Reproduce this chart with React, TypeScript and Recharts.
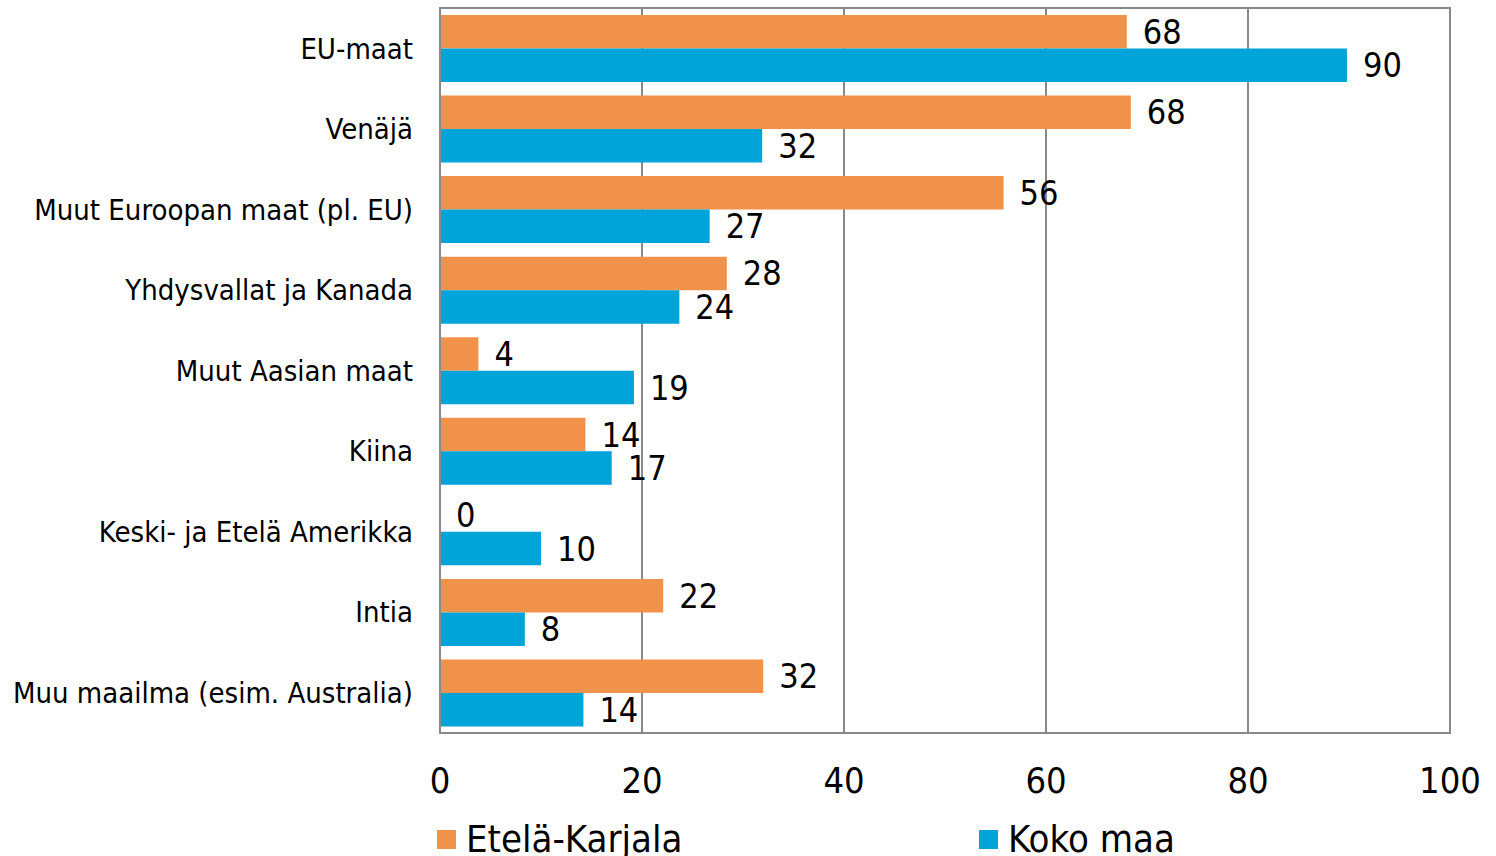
import React from 'react';
import { BarChart, Bar, XAxis, YAxis, CartesianGrid, LabelList, Legend, ReferenceArea } from 'recharts';

const categories = [
  'EU-maat',
  'Venäjä',
  'Muut Euroopan maat (pl. EU)',
  'Yhdysvallat ja Kanada',
  'Muut Aasian maat',
  'Kiina',
  'Keski- ja Etelä Amerikka',
  'Intia',
  'Muu maailma (esim. Australia)',
];
const eteläKarjala = [68, 68.4, 55.8, 28.4, 3.8, 14.4, 0, 22.1, 32];
const kokoMaa = [89.8, 31.9, 26.7, 23.7, 19.2, 17, 10, 8.4, 14.2];
const xTicks = [0, 20, 40, 60, 80, 100];
const seriesNames = ['Etelä-Karjala', 'Koko maa'];
const colors = ['#F0924A', '#00A4D8'];

const data = categories.map((name, i) => ({ name, a: eteläKarjala[i], b: kokoMaa[i] }));

const FONT = "'DejaVu Sans Condensed', 'DejaVu Sans', sans-serif";

const LegendContent = () => (
  <div style={{ display: 'flex', height: 40, alignItems: 'center', fontFamily: FONT, fontSize: 38, paddingLeft: 437, position: 'relative', top: 3 }}>
    {seriesNames.map((n, i) => (
      <div key={n} style={{ display: 'flex', alignItems: 'center', width: 542, flexShrink: 0 }}>
        <span style={{ display: 'inline-block', width: 19, height: 19, background: colors[i], marginRight: 10 }} />
        <span style={{ color: '#000', whiteSpace: 'nowrap' }}>{n}</span>
      </div>
    ))}
  </div>
);

const fmt = (v: any) => String(Math.round(Number(v)));

export default function App() {
  return (
    <div style={{ position: 'absolute', left: 0, top: 0, width: 1496, height: 856, overflow: 'hidden', background: '#fff' }}>
      <BarChart
        width={1496}
        height={856}
        data={data}
        layout="vertical"
        margin={{ top: 8, right: 46, bottom: 0, left: 0 }}
        barGap={0}
        barSize={33.5}
      >
        <CartesianGrid vertical={true} horizontal={false} stroke="#898989" strokeWidth={2} />
        <ReferenceArea x1={0} x2={100} fill="none" stroke="#898989" strokeWidth={2} ifOverflow="extendDomain" />
        <XAxis
          type="number"
          domain={[0, 100]}
          ticks={xTicks}
          tickLine={false}
          tickSize={0}
          tickMargin={34}
          height={83}
          axisLine={{ stroke: '#898989', strokeWidth: 2 }}
          tick={{ fill: '#000', fontSize: 36, fontFamily: FONT }}
        />
        <YAxis
          type="category"
          dataKey="name"
          width={440}
          tickLine={false}
          tickSize={0}
          tickMargin={27}
          axisLine={{ stroke: '#898989', strokeWidth: 2 }}
          tick={{ fill: '#000', fontSize: 29, fontFamily: FONT }}
          interval={0}
        />
        <Legend verticalAlign="bottom" content={<LegendContent />} />
        <Bar dataKey="a" name={seriesNames[0]} fill={colors[0]} minPointSize={0.1} isAnimationActive={false}>
          <LabelList dataKey="a" position="right" offset={16} formatter={fmt} style={{ fill: '#000', fontSize: 34, fontFamily: FONT }} />
        </Bar>
        <Bar dataKey="b" name={seriesNames[1]} fill={colors[1]} isAnimationActive={false}>
          <LabelList dataKey="b" position="right" offset={16} formatter={fmt} style={{ fill: '#000', fontSize: 34, fontFamily: FONT }} />
        </Bar>
      </BarChart>
    </div>
  );
}
